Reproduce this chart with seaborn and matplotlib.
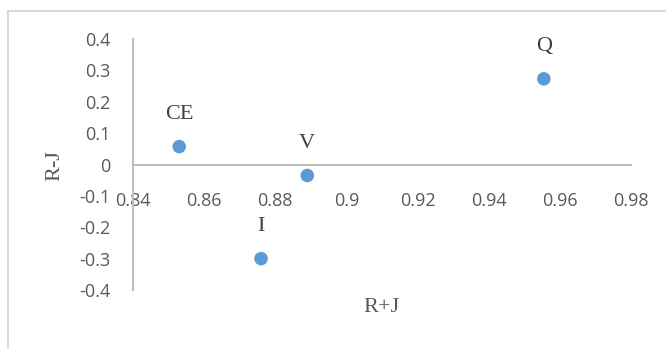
import matplotlib.pyplot as plt
import matplotlib.patches as patches
import pandas as pd
import seaborn as sns

# data
labels = ["CE", "I", "V", "Q"]
r_plus_j = [0.853, 0.876, 0.889, 0.9555]
r_minus_j = [0.057, -0.300, -0.035, 0.273]

x_ticks = [0.84, 0.86, 0.88, 0.9, 0.92, 0.94, 0.96, 0.98]
x_tick_labels = ["0.84", "0.86", "0.88", "0.9", "0.92", "0.94", "0.96", "0.98"]
y_ticks = [-0.4, -0.3, -0.2, -0.1, 0, 0.1, 0.2, 0.3, 0.4]
y_tick_labels = ["-0.4", "-0.3", "-0.2", "-0.1", "0", "0.1", "0.2", "0.3", "0.4"]

df = pd.DataFrame({"label": labels, "R+J": r_plus_j, "R-J": r_minus_j})

sns.set_style("white")
plt.rcParams["font.family"] = ["Open Sans", "DejaVu Sans"]

fig = plt.figure(figsize=(6.66, 3.49), dpi=100, facecolor="white")
ax = fig.add_axes([133 / 666, 59 / 349, 498 / 666, 251 / 349])

# outer chart border (only top/left visible, the rest is cropped)
fig.patches.append(patches.Rectangle((8 / 666, -0.1), 1.2, (349 - 11) / 349 + 0.1,
                                     transform=fig.transFigure, fill=False,
                                     edgecolor="#d9d9d9", lw=1.5))

sns.scatterplot(data=df, x="R+J", y="R-J", ax=ax, color="#5B9BD5",
                s=95, edgecolor="none", legend=False, zorder=3)

for _, row in df.iterrows():
    ax.annotate(row["label"], (row["R+J"], row["R-J"]), xytext=(0, 23),
                textcoords="offset points", ha="center", va="center",
                fontsize=16, color="#404040", family="Liberation Serif")

ax.set_xlim(0.84, 0.98)
ax.set_ylim(-0.4, 0.4)
ax.set_xticks(x_ticks)
ax.set_xticklabels(x_tick_labels)
ax.set_yticks(y_ticks)
ax.set_yticklabels(y_tick_labels)

# axes crossing at zero, like Excel
ax.spines["bottom"].set_position(("data", 0))
ax.spines["top"].set_visible(False)
ax.spines["right"].set_visible(False)
for side in ["left", "bottom"]:
    ax.spines[side].set_color("#bfbfbf")
    ax.spines[side].set_linewidth(1.5)

ax.tick_params(axis="x", length=0, pad=20, labelsize=13, labelcolor="#595959")
ax.tick_params(axis="y", length=0, pad=16, labelsize=13, labelcolor="#595959")

ax.set_xlabel("")
ax.set_ylabel("")
fig.text(381 / 666, 1 - 308 / 349, "R+J", ha="center", va="center",
         fontsize=16, color="#595959", family="Liberation Serif")
fig.text(55 / 666, 1 - 166 / 349, "R-J", ha="center", va="center", rotation=90,
         fontsize=16, color="#595959", family="Liberation Serif")

fig.savefig("out.png", dpi=100, facecolor="white")
